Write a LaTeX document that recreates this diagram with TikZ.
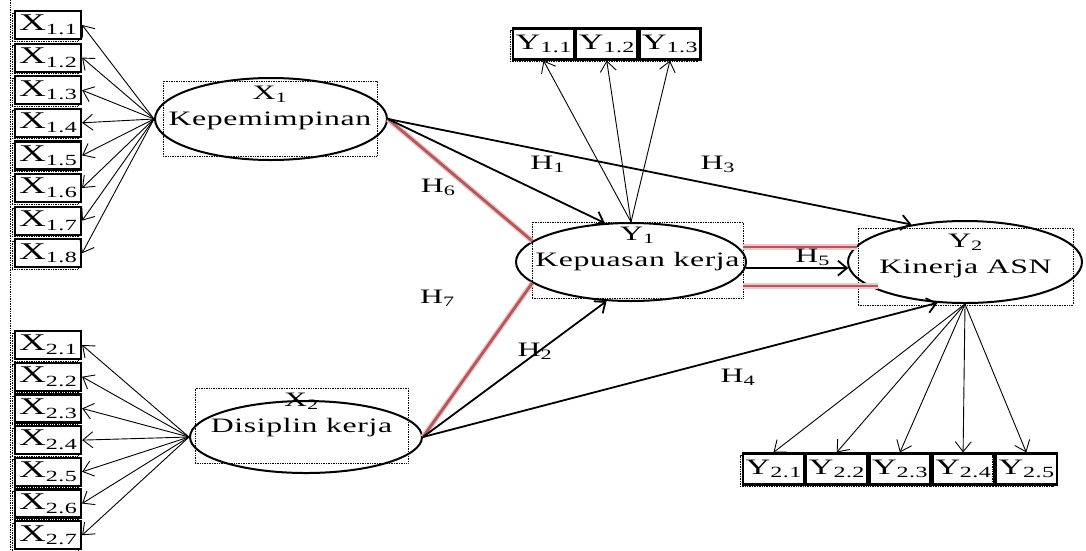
\documentclass[tikz,border=0pt]{standalone}
\usepackage{fontspec}
\setmainfont{Liberation Serif}[FakeStretch=1.55,LetterSpace=3]
\usepackage{tikz}
\usetikzlibrary{shapes.geometric, arrows.meta, positioning}
\definecolor{hypred}{HTML}{B3585B}
\definecolor{hypglow}{HTML}{EDC8C8}
\newcommand{\isub}[1]{\raisebox{-0.35ex}{\fontsize{15.5}{15.5}\selectfont#1}}
\tikzstyle{latent}=[ellipse, draw, line width=2pt, inner sep=0pt]
\tikzstyle{txtframe}=[rectangle, draw, densely dotted, line width=0.7pt, align=center, inner sep=0pt, font=\fontsize{20.5}{26}\selectfont]
\tikzstyle{indx}=[rectangle, draw, line width=2.2pt, fill=white, minimum width=66pt, minimum height=28pt, inner sep=0pt, font=\fontsize{24}{26}\selectfont, preaction={draw, densely dotted, line width=0.7pt, transform canvas={xshift=-3pt, yshift=-2pt}}]
\tikzstyle{indy}=[indx, minimum width=61pt, minimum height=31pt, font=\fontsize{22}{26}\selectfont]
\tikzstyle{arrow}=[line width=1.8pt, -{Straight Barb[length=9pt,width=15pt]}]
\tikzstyle{loading}=[line width=0.9pt, -{Straight Barb[length=10pt,width=16pt]}]
\tikzstyle{hyp}=[line width=2.8pt, draw=hypred, preaction={draw=hypglow, line width=5.5pt}]
\tikzstyle{lbl}=[inner sep=0pt, font=\fontsize{20.5}{24}\selectfont]
\begin{document}
\begin{tikzpicture}[x=1pt, y=-1pt]
    \useasboundingbox (0,0) rectangle (1086,550);
    % latent variables
    \node[latent, minimum width=232pt, minimum height=82pt] (x1) at (271,119) {};
    \node[latent, minimum width=232pt, minimum height=72pt] (x2) at (306,437) {};
    \node[latent, minimum width=230pt, minimum height=78pt] (y1) at (631,262) {};
    \node[latent, minimum width=234pt, minimum height=82pt] (y2) at (965,262) {};
    \node[txtframe, minimum width=214pt, minimum height=75pt] (x1fr) at (270,118.5) {X\textsubscript{1}\\Kepemimpinan\\\mbox{}};
    \node[txtframe, minimum width=213pt, minimum height=75pt] (x2fr) at (301.5,425.5) {X\textsubscript{2}\\Disiplin kerja\\\mbox{}};
    \node[txtframe, minimum width=211pt, minimum height=76pt] (y1fr) at (637.5,260) {Y\textsubscript{1}\\Kepuasan kerja\\\mbox{}};
    \node[txtframe, minimum width=215pt, minimum height=77pt] (y2fr) at (965.5,266.5) {Y\textsubscript{2}\\Kinerja ASN\\\mbox{}};

    % indicators
    \coordinate (lft) at (10,0);
    \coordinate (lfb) at (10,550);
    \draw[densely dotted, line width=0.7pt] (lft) -- (lfb);
    \node[indx] (x11) at (48,25) {X\isub{1.1}};
    \node[indx, below=2.4pt of x11] (x12) {X\isub{1.2}};
    \node[indx, below=2.4pt of x12] (x13) {X\isub{1.3}};
    \node[indx, below=2.4pt of x13] (x14) {X\isub{1.4}};
    \node[indx, below=2.4pt of x14] (x15) {X\isub{1.5}};
    \node[indx, below=2.4pt of x15] (x16) {X\isub{1.6}};
    \node[indx, below=2.4pt of x16] (x17) {X\isub{1.7}};
    \node[indx, below=2.4pt of x17] (x18) {X\isub{1.8}};
    \node[indx] (x21) at (48,345) {X\isub{2.1}};
    \node[indx, below=1.5pt of x21] (x22) {X\isub{2.2}};
    \node[indx, below=1.5pt of x22] (x23) {X\isub{2.3}};
    \node[indx, below=1.5pt of x23] (x24) {X\isub{2.4}};
    \node[indx, below=1.5pt of x24] (x25) {X\isub{2.5}};
    \node[indx, below=1.5pt of x25] (x26) {X\isub{2.6}};
    \node[indx, below=1.5pt of x26] (x27) {X\isub{2.7}};
    \node[indy] (y11) at (543.5,44) {Y\isub{1.1}};
    \node[indy, right=0pt of y11] (y12) {Y\isub{1.2}};
    \node[indy, right=0pt of y12] (y13) {Y\isub{1.3}};
    \node[indy] (y21) at (773.5,469) {Y\isub{2.1}};
    \node[indy, right=0pt of y21] (y22) {Y\isub{2.2}};
    \node[indy, right=0pt of y22] (y23) {Y\isub{2.3}};
    \node[indy, right=0pt of y23] (y24) {Y\isub{2.4}};
    \node[indy, right=0pt of y24] (y25) {Y\isub{2.5}};

    % hypotheses
    \draw[hyp] (x1.east) -- node[lbl, pos=0.348, yshift=-26pt]{H\textsubscript{6}} (y1.168);
    \draw[hyp] (x2.east) -- node[lbl, pos=0.9, xshift=-84pt]{H\textsubscript{7}} (y1.192);
    \coordinate (r5a) at (857,247);
    \coordinate (r5b) at (878,286);
    \draw[hyp] (r5a -| y1fr.east) -- (r5a);
    \draw[hyp] (r5b -| y1fr.east) -- (r5b);
    \draw[arrow] (x1.east) -- node[lbl, pos=0.737, yshift=31pt]{H\textsubscript{1}} (y1.124);
    \draw[arrow] (x1.east) -- node[lbl, pos=0.63, yshift=21pt]{H\textsubscript{3}} (y2.145);
    \draw[arrow] (x2.east) -- node[lbl, pos=0.61, yshift=3pt]{H\textsubscript{2}} (y1.238);
    \draw[arrow] (x2.east) -- node[lbl, pos=0.612, yshift=-22pt]{H\textsubscript{4}} (y2.236);
    \draw[arrow] (y1.-3) -- node[lbl, pos=0.653, yshift=11pt]{H\textsubscript{5}} (y2.183);

    % loadings
    \draw[loading] (x1.west) -- (x11.east);
    \draw[loading] (x1.west) -- (x12.east);
    \draw[loading] (x1.west) -- (x13.east);
    \draw[loading] (x1.west) -- (x14.east);
    \draw[loading] (x1.west) -- (x15.east);
    \draw[loading] (x1.west) -- (x16.east);
    \draw[loading] (x1.west) -- (x17.east);
    \draw[loading] (x1.west) -- (x18.east);
    \draw[loading] (x2.west) -- (x21.east);
    \draw[loading] (x2.west) -- (x22.east);
    \draw[loading] (x2.west) -- (x23.east);
    \draw[loading] (x2.west) -- (x24.east);
    \draw[loading] (x2.west) -- (x25.east);
    \draw[loading] (x2.west) -- (x26.east);
    \draw[loading] (x2.west) -- (x27.east);
    \draw[loading] (y1.north) -- (y11.south);
    \draw[loading] (y1.north) -- (y12.south);
    \draw[loading] (y1.north) -- (y13.south);
    \draw[loading] (y2.south) -- (y21.north);
    \draw[loading] (y2.south) -- (y22.north);
    \draw[loading] (y2.south) -- (y23.north);
    \draw[loading] (y2.south) -- (y24.north);
    \draw[loading] (y2.south) -- (y25.north);
\end{tikzpicture}
\end{document}
